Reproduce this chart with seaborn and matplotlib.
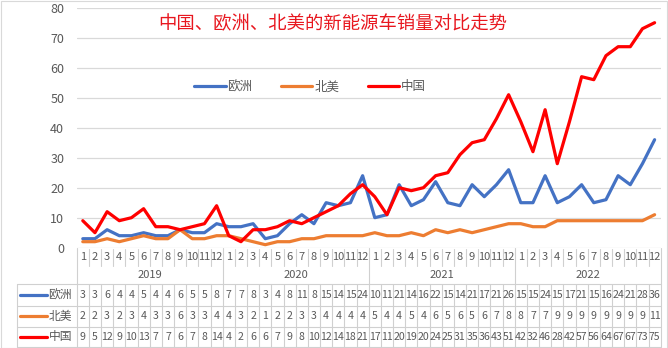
import numpy as np
import pandas as pd
import matplotlib
matplotlib.use("Agg")
import matplotlib.pyplot as plt
import seaborn as sns
from matplotlib.transforms import blended_transform_factory
from matplotlib.lines import Line2D
from matplotlib.patches import Rectangle

# ---------------- data ----------------
years = ["2019", "2020", "2021", "2022"]
months = list(range(1, 13))
series_names = ["欧洲", "北美", "中国"]
europe = [3, 3, 6, 4, 4, 5, 4, 4, 6, 5, 5, 8,
          7, 7, 8, 3, 4, 8, 11, 8, 15, 14, 15, 24,
          10, 11, 21, 14, 16, 22, 15, 14, 21, 17, 21, 26,
          15, 15, 24, 15, 17, 21, 15, 16, 24, 21, 28, 36]
north_america = [2, 2, 3, 2, 3, 4, 3, 3, 6, 3, 3, 4,
                 4, 3, 2, 1, 2, 2, 3, 3, 4, 4, 4, 4,
                 5, 4, 4, 5, 4, 6, 5, 6, 5, 6, 7, 8,
                 8, 7, 7, 9, 9, 9, 9, 9, 9, 9, 9, 11]
china = [9, 5, 12, 9, 10, 13, 7, 7, 6, 7, 8, 14,
         4, 2, 6, 6, 7, 9, 8, 10, 12, 14, 18, 21,
         17, 11, 20, 19, 20, 24, 25, 31, 35, 36, 43, 51,
         42, 32, 46, 28, 42, 57, 56, 64, 67, 67, 73, 75]
title = "中国、欧洲、北美的新能源车销量对比走势"
colors = ["#4472C4", "#ED7D31", "#FF0000"]

values = [europe, north_america, china]
n = len(europe)
idx = np.arange(n)
df = pd.concat([pd.DataFrame({"idx": idx, "value": v, "series": s})
                for s, v in zip(series_names, values)], ignore_index=True)

# ---------------- style ----------------
sns.set_theme(style="white")
plt.rcParams["font.family"] = ["Noto Sans CJK SC", "DejaVu Sans"]
TXT = "#595959"
GRID = "#D9D9D9"
TAB = "#D0D0D0"

W, H = 668, 348
fig = plt.figure(figsize=(W / 100, H / 100), dpi=100)
L, R, T, B = 76.7, 660.7, 7.7, 247.7
ax = fig.add_axes([L / W, 1 - B / H, (R - L) / W, (B - T) / H])

sns.lineplot(data=df, x="idx", y="value", hue="series", hue_order=series_names,
             palette=colors, linewidth=2.3, ax=ax, legend=False)

ax.set_xlim(-0.5, n - 0.5)
ax.set_ylim(0, 80)
ax.set_yticks(range(0, 81, 10))
ax.set_xticks([])
ax.set_xlabel("")
ax.set_ylabel("")
ax.grid(axis="y", color=GRID, linewidth=0.9)
ax.set_axisbelow(True)
for sp in ax.spines.values():
    sp.set_visible(False)
ax.tick_params(axis="y", length=0, pad=9, labelsize=9, labelcolor=TXT)

# legend
handles = [Line2D([0], [0], color=c, lw=2.3) for c in colors]
ax.legend(handles, series_names, loc="center", bbox_to_anchor=(0.40, 0.67),
          ncol=3, frameon=False, fontsize=9, labelcolor=TXT,
          handlelength=2.5, handletextpad=0.15, columnspacing=2.3)

# title
fig.text(333 / W, 1 - 24 / H, title, color="#E8171F", fontsize=13.2,
         ha="center", va="center")

# ---------------- data table ----------------
tr = blended_transform_factory(ax.transData, fig.transFigure)
ftr = fig.transFigure


def fy(py):
    return 1 - py / H


def vline(x, y0, y1):
    fig.add_artist(Line2D([x, x], [fy(y0), fy(y1)], transform=tr, color=TAB, lw=0.8))


def hline(x0, x1, y):
    fig.add_artist(Line2D([x0 / W, x1 / W], [fy(y), fy(y)], transform=ftr, color=TAB, lw=0.8))


# month row and year row
for k in range(n + 1):
    x = k - 0.5
    if k % 12 == 0:
        vline(x, B, 284.3)
    else:
        vline(x, 249.3, 265.5)
for k in range(n):
    fig.text(k, fy(257.3), str(months[k % 12]), transform=tr, ha="center",
             va="center", fontsize=8, color=TXT)
for j, yr in enumerate(years):
    fig.text(j * 12 + 5.5, fy(275.5), yr, transform=tr, ha="center",
             va="center", fontsize=8, color=TXT)

# series rows
row_lines = [284.3, 305.7, 327.0, 346.5]
for y in row_lines:
    hline(17, R, y)
fig.add_artist(Line2D([17 / W, 17 / W], [fy(row_lines[0]), fy(row_lines[-1])],
                      transform=ftr, color=TAB, lw=0.8))
for k in range(n + 1):
    vline(k - 0.5, row_lines[0], row_lines[-1])

for r, (name, vals, c) in enumerate(zip(series_names, values, colors)):
    yc = (row_lines[r] + row_lines[r + 1]) / 2
    fig.add_artist(Line2D([20 / W, 47 / W], [fy(yc), fy(yc)], transform=ftr,
                          color=c, lw=2.3))
    fig.text(48.5 / W, fy(yc), name, transform=ftr, ha="left", va="center",
             fontsize=8.5, color=TXT)
    for k, v in enumerate(vals):
        fig.text(k, fy(yc), str(v), transform=tr, ha="center", va="center",
                 fontsize=7.6, color=TXT)

# outer chart border
fig.add_artist(Rectangle((0.5 / W, 0.5 / H), (W - 1.5) / W, (H - 1.5) / H,
                         transform=ftr, fill=False, edgecolor="#D9D9D9", lw=0.8))

fig.savefig("out.png", dpi=100)
